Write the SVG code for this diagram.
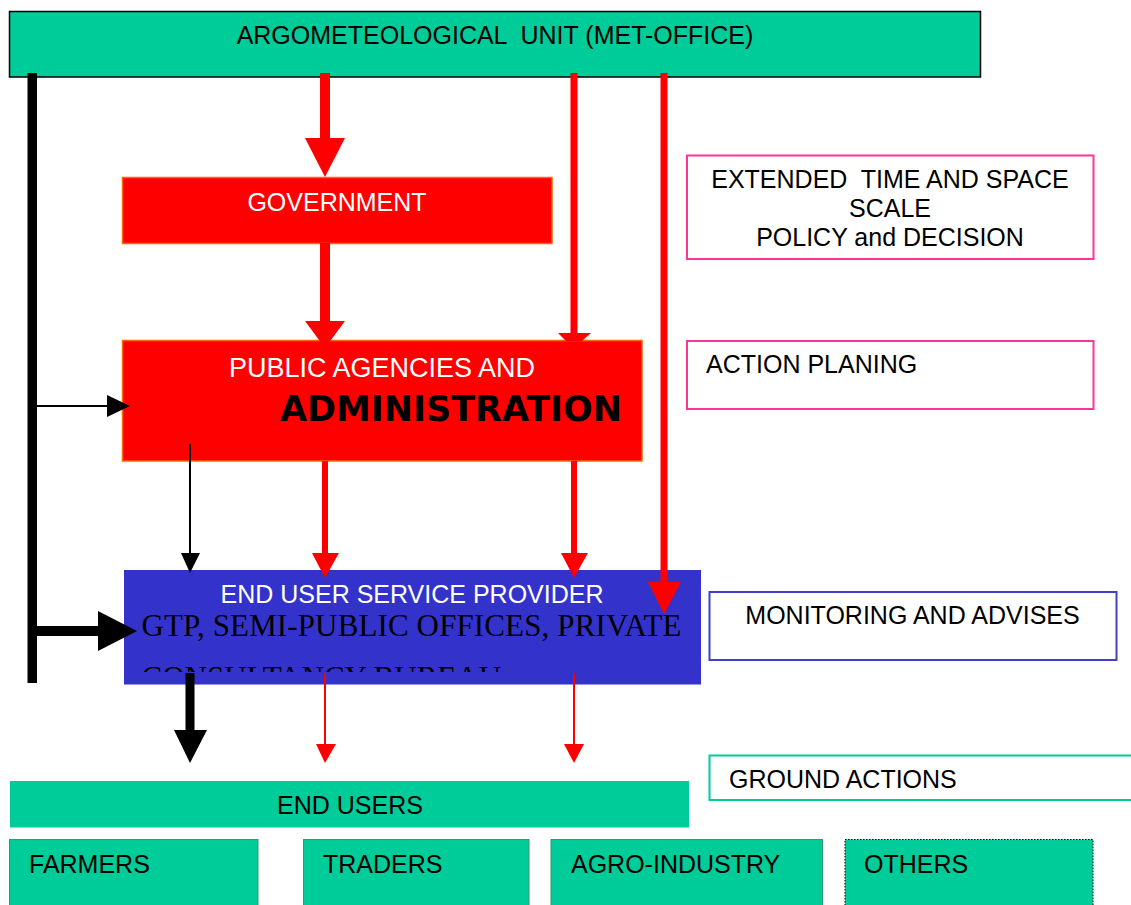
<svg xmlns="http://www.w3.org/2000/svg" width="1131" height="905" viewBox="0 0 1131 905">
<style>
  .t { font-family: "Liberation Sans", Arial, sans-serif; font-size: 25px; fill: #000; }
  .w { fill: #fff; }
  .green { fill: #00CC99; }
  .redbox { fill: #FF0000; stroke: #FF6600; stroke-width: 1.5; }
  .sub { fill: #00CC99; stroke: #339966; stroke-width: 1; }
  .lbl { fill: #fff; stroke-width: 2; }
</style>
<defs>
  <clipPath id="euclip"><rect x="124" y="570" width="577" height="102"/></clipPath>
</defs>
<rect width="1131" height="905" fill="#fff"/>

<g id="met-office">
  <rect x="9.5" y="11.5" width="971" height="65.5" class="green" stroke="#000" stroke-width="1.5"/>
  <text class="t" x="495" y="44" text-anchor="middle" xml:space="preserve">ARGOMETEOLOGICAL  UNIT (MET-OFFICE)</text>
</g>

<g id="government">
  <rect x="122.5" y="177.5" width="429.5" height="66" class="redbox"/>
  <text class="t w" x="337" y="211" text-anchor="middle">GOVERNMENT</text>
</g>

<g id="public-agencies">
  <rect x="122.5" y="340.5" width="519.5" height="120.5" class="redbox"/>
  <text class="t w" x="382" y="377" text-anchor="middle" style="font-size:27px">PUBLIC AGENCIES AND</text>
  <text x="280" y="421" textLength="342" lengthAdjust="spacingAndGlyphs" style="font-family:'DejaVu Sans',sans-serif;font-weight:bold;font-size:36px;fill:#000">ADMINISTRATION</text>
</g>

<g id="end-user-service-provider">
  <rect x="124" y="570" width="577" height="114.5" fill="#3333CC"/>
  <text class="t w" x="412" y="603" text-anchor="middle">END USER SERVICE PROVIDER</text>
  <g clip-path="url(#euclip)" style="font-family:'Liberation Serif','Times New Roman',serif;font-size:31px;fill:#000">
    <text x="141.5" y="636" textLength="540" lengthAdjust="spacing">GTP, SEMI-PUBLIC OFFICES, PRIVATE</text>
    <text x="141.5" y="688">CONSULTANCY BUREAU</text>
  </g>
</g>

<g id="end-users">
  <rect x="10" y="781" width="679" height="46.5" class="green"/>
  <text class="t" x="350" y="814" text-anchor="middle">END USERS</text>
</g>

<g id="farmers">
  <rect x="9.5" y="839.5" width="248.5" height="70" class="sub"/>
  <text class="t" x="29" y="873">FARMERS</text>
</g>
<g id="traders">
  <rect x="303.5" y="839.5" width="225.5" height="70" class="sub"/>
  <text class="t" x="323" y="873">TRADERS</text>
</g>
<g id="agro-industry">
  <rect x="551" y="839.5" width="271.5" height="70" class="sub"/>
  <text class="t" x="571" y="873">AGRO-INDUSTRY</text>
</g>
<g id="others">
  <rect x="845" y="839.5" width="248" height="70" fill="#00CC99" stroke="#000" stroke-width="1" stroke-dasharray="1.5,1.5"/>
  <text class="t" x="864" y="873">OTHERS</text>
</g>

<g id="extended-scale">
  <rect x="687" y="155.5" width="406.5" height="103.5" class="lbl" stroke="#FF3399"/>
  <text class="t" x="890" y="188" text-anchor="middle" xml:space="preserve">EXTENDED  TIME AND SPACE</text>
  <text class="t" x="890" y="217" text-anchor="middle">SCALE</text>
  <text class="t" x="890" y="246" text-anchor="middle">POLICY and DECISION</text>
</g>

<g id="action-planing">
  <rect x="687" y="341" width="406.5" height="68" class="lbl" stroke="#FF3399"/>
  <text class="t" x="706" y="373">ACTION PLANING</text>
</g>

<g id="monitoring">
  <rect x="709.5" y="592" width="407" height="68" class="lbl" stroke="#3F3FCC"/>
  <text class="t" x="912.5" y="624" text-anchor="middle">MONITORING AND ADVISES</text>
</g>

<g id="ground-actions">
  <rect x="709.5" y="755.5" width="430" height="44.5" class="lbl" stroke="#00CC99"/>
  <text class="t" x="729" y="788">GROUND ACTIONS</text>
</g>

<g id="connectors">
  <!-- black feedback bar -->
  <rect x="27.5" y="73" width="9.5" height="610" fill="#000"/>
  <!-- bar to public agencies -->
  <line x1="37" y1="406" x2="109" y2="406" stroke="#000" stroke-width="2"/>
  <polygon points="107,395 130,406 107,417" fill="#000"/>
  <!-- bar to end user service provider -->
  <line x1="37" y1="631" x2="100" y2="631" stroke="#000" stroke-width="10"/>
  <polygon points="98,611 137,631 98,651" fill="#000"/>

  <!-- met-office to government -->
  <line x1="325" y1="73" x2="325" y2="140" stroke="#FF0000" stroke-width="10"/>
  <polygon points="305,138 345,138 325,177" fill="#FF0000"/>
  <!-- government to public agencies -->
  <line x1="325" y1="243" x2="325" y2="324" stroke="#FF0000" stroke-width="10"/>
  <polygon points="305,321 345,321 325,348" fill="#FF0000"/>
  <!-- met-office to public agencies -->
  <line x1="574" y1="73" x2="574" y2="334" stroke="#FF0000" stroke-width="7"/>
  <polygon points="558,333 591,333 582,341 566,341" fill="#FF0000"/>
  <!-- met-office to end user service provider -->
  <line x1="664" y1="73" x2="664" y2="584" stroke="#FF0000" stroke-width="7"/>
  <polygon points="648,582 681,582 664,614" fill="#FF0000"/>

  <!-- public agencies to end user service provider -->
  <line x1="190" y1="444" x2="190" y2="555" stroke="#000" stroke-width="2"/>
  <polygon points="181,553 200,553 190,573" fill="#000"/>
  <line x1="325" y1="461" x2="325" y2="555" stroke="#FF0000" stroke-width="6"/>
  <polygon points="312,553 339,553 325,578" fill="#FF0000"/>
  <line x1="574" y1="461" x2="574" y2="555" stroke="#FF0000" stroke-width="6"/>
  <polygon points="561,553 588,553 574,578" fill="#FF0000"/>

  <!-- end user service provider to end users -->
  <line x1="190" y1="673" x2="190" y2="732" stroke="#000" stroke-width="9"/>
  <polygon points="174,730 207,730 190,763" fill="#000"/>
  <line x1="325" y1="673" x2="325" y2="746" stroke="#FF0000" stroke-width="2"/>
  <polygon points="316,744 336,744 325,763" fill="#FF0000"/>
  <line x1="574" y1="673" x2="574" y2="746" stroke="#FF0000" stroke-width="2"/>
  <polygon points="564,744 584,744 574,763" fill="#FF0000"/>
</g>
</svg>
